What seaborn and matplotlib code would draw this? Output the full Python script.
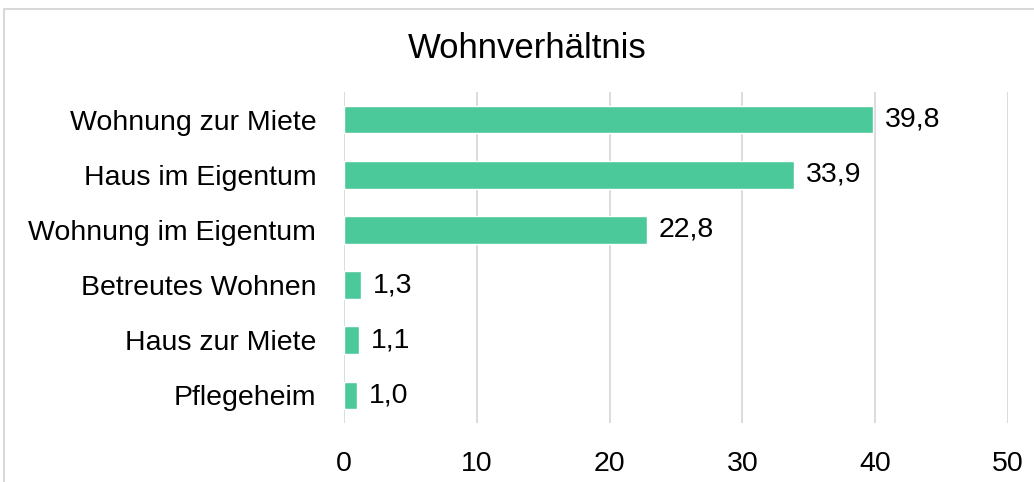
import matplotlib
matplotlib.use("Agg")
import matplotlib.pyplot as plt
import matplotlib.patches as mpatches
import seaborn as sns
import pandas as pd

# Data
categories = ["Wohnung zur Miete", "Haus im Eigentum", "Wohnung im Eigentum",
              "Betreutes Wohnen", "Haus zur Miete", "Pflegeheim"]
values = [39.8, 33.9, 22.8, 1.3, 1.1, 1.0]
x_ticks = [0, 10, 20, 30, 40, 50]

df = pd.DataFrame({"kategorie": categories, "wert": values})

sns.set_theme(style="white")
plt.rcParams["font.family"] = ["Liberation Sans", "DejaVu Sans"]

fig = plt.figure(figsize=(10.34, 4.82), dpi=100)
ax = fig.add_axes([0.3327, 0.1224, 0.6422, 0.6867])

sns.barplot(data=df, x="wert", y="kategorie", color="#4CC99B",
            saturation=1, width=0.5, ax=ax, zorder=3)

ax.set_xlim(0, 50)
ax.set_ylim(5.5, -0.5)
ax.set_xticks(x_ticks)
ax.set_xticklabels([str(t) for t in x_ticks])
ax.grid(axis="x", color="#D9D9D9", linewidth=1.3, zorder=0)
for s in ax.spines.values():
    s.set_visible(False)
ax.tick_params(axis="x", length=0, labelsize=20.5, pad=20, colors="black")
ax.tick_params(axis="y", length=0, labelsize=20.5, pad=20, colors="black")
ax.set_xlabel("")
ax.set_ylabel("")

# value labels
for i, v in enumerate(values):
    ax.text(v + 0.9, i, f"{v:.1f}".replace(".", ","), va="center", ha="left",
            fontsize=20.5, color="black")

fig.text(0.51, 0.9, "Wohnverhältnis", ha="center", va="center", fontsize=25, color="black")

# chart area border (clipped at right/bottom like the reference)
fig.patches.append(mpatches.Rectangle((4 / 1034, -0.05), 1.1, 1 - 9 / 482 + 0.05,
                                      transform=fig.transFigure, fill=False,
                                      edgecolor="#D9D9D9", linewidth=1.5))

fig.savefig("out.png", dpi=100)
plt.close(fig)
